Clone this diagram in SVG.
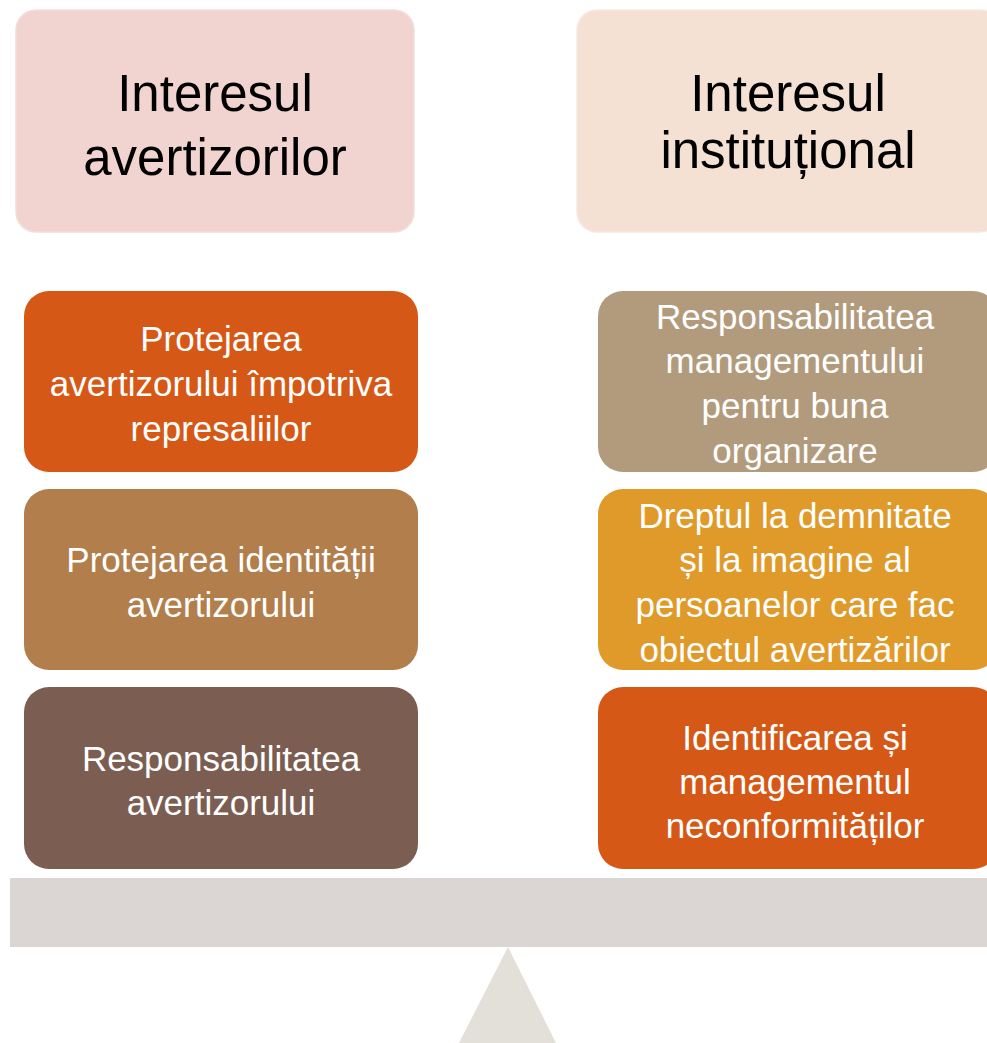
<svg xmlns="http://www.w3.org/2000/svg" width="987" height="1043" viewBox="0 0 987 1043">
<style>
.h{font-family:"Liberation Sans",Arial,sans-serif;font-size:51px;fill:#000;text-anchor:middle}
.t{font-family:"Liberation Sans",Arial,sans-serif;font-size:35px;fill:#fff;text-anchor:middle}
</style>
<rect width="987" height="1043" fill="#fff"/>
<g id="header-left">
<rect x="16" y="10" width="398" height="222" rx="20" fill="#F1D4CF" stroke="#F4DEDA" stroke-width="1.5"/>
<text class="h" x="215" y="111">Interesul</text>
<text class="h" x="215" y="175">avertizorilor</text>
</g>
<g id="header-right">
<rect x="577" y="10" width="423" height="222" rx="20" fill="#F5E0D4" stroke="#F8E9E0" stroke-width="1.5"/>
<text class="h" x="788" y="111">Interesul</text>
<text class="h" x="788" y="168">instituțional</text>
</g>
<g id="left-1">
<rect x="24" y="291" width="394" height="181" rx="25" fill="#D55816"/>
<text class="t" x="221" y="351">Protejarea</text>
<text class="t" x="221" y="396">avertizorului împotriva</text>
<text class="t" x="221" y="441">represaliilor</text>
</g>
<g id="left-2">
<rect x="24" y="489" width="394" height="181" rx="25" fill="#B27E4B"/>
<text class="t" x="221" y="572">Protejarea identității</text>
<text class="t" x="221" y="617">avertizorului</text>
</g>
<g id="left-3">
<rect x="24" y="687" width="394" height="182" rx="25" fill="#7B5E51"/>
<text class="t" x="221" y="771">Responsabilitatea</text>
<text class="t" x="221" y="815">avertizorului</text>
</g>
<g id="right-1">
<rect x="598" y="291" width="400" height="181" rx="25" fill="#B29B7C"/>
<text class="t" x="795" y="329">Responsabilitatea</text>
<text class="t" x="795" y="373">managementului</text>
<text class="t" x="795" y="418">pentru buna</text>
<text class="t" x="795" y="463">organizare</text>
</g>
<g id="right-2">
<rect x="598" y="489" width="400" height="181" rx="25" fill="#E09A2A"/>
<text class="t" x="795" y="528">Dreptul la demnitate</text>
<text class="t" x="795" y="572">și la imagine al</text>
<text class="t" x="795" y="617">persoanelor care fac</text>
<text class="t" x="795" y="662">obiectul avertizărilor</text>
</g>
<g id="right-3">
<rect x="598" y="687" width="400" height="182" rx="25" fill="#D55816"/>
<text class="t" x="795" y="750">Identificarea și</text>
<text class="t" x="795" y="794">managementul</text>
<text class="t" x="795" y="838">neconformităților</text>
</g>
<g id="balance">
<rect x="10" y="878" width="977" height="69" fill="#DBD6D3"/>
<polygon points="508,947 556,1043 459,1043" fill="#E3DFD9"/>
</g>
</svg>
